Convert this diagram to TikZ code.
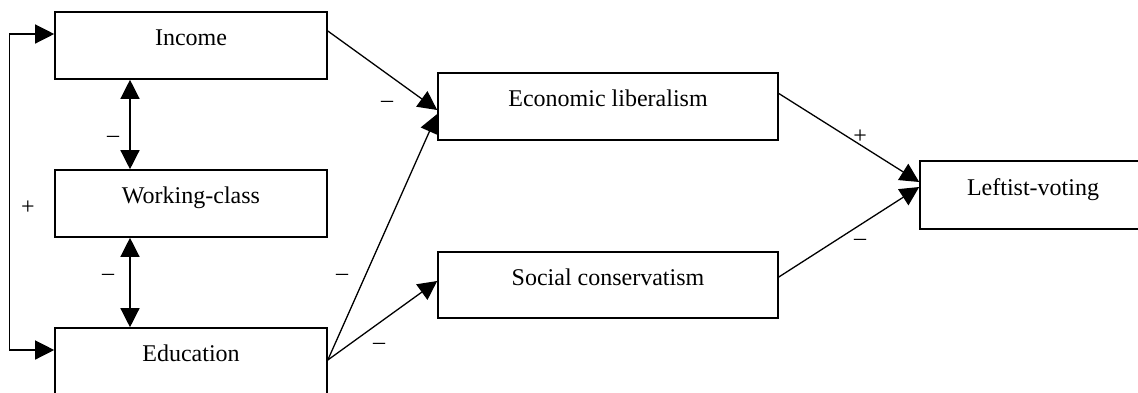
\documentclass[tikz,border=0pt]{standalone}
\usepackage{fontspec}
\setmainfont{Liberation Serif}
\usetikzlibrary{arrows.meta}

\tikzstyle{box} = [draw, rectangle, line width=0.8pt, inner sep=0pt, minimum height=33.5pt, text height=1ex, text depth=1ex, font=\fontsize{12}{14}\selectfont]
\tikzstyle{sgn} = [inner sep=0pt, font=\fontsize{12}{14}\selectfont]
\tikzstyle{arr} = [line width=0.65pt, -{Triangle[length=9.5pt, width=9.5pt]}]
\tikzstyle{darr} = [line width=0.65pt, {Triangle[length=9.5pt, width=9.5pt]}-{Triangle[length=9.5pt, width=9.5pt]}]

\begin{document}
\begin{tikzpicture}[x=0.5pt, y=-0.5pt]
\useasboundingbox (0,0) rectangle (1138,392);
\clip (0,0) rectangle (1138,392);

\node[box, minimum width=136pt] (inc) at (191,45.5) {Income};
\node[box, minimum width=136pt] (wc) at (191,203.5) {Working-class};
\node[box, minimum width=136pt] (edu) at (191,361.5) {Education};
\node[box, minimum width=170pt] (econ) at (608,106.5) {Economic liberalism};
\node[box, minimum width=170pt, minimum height=33pt] (soc) at (608,285) {Social conservatism};
\node[box, minimum width=113pt, minimum height=34pt] (vote) at (1033,195) {Leftist-voting};

\draw[darr] ([xshift=-30.5pt]inc.south) -- ([xshift=-30.5pt]wc.north);
\draw[darr] ([xshift=-30.5pt]wc.south) -- ([xshift=-30.5pt]edu.north);
\draw[darr] ([yshift=5.75pt]edu.west) -- ++(-45,0) |- ([yshift=5.75pt]inc.west);
\draw[arr] ([yshift=7.25pt]inc.east) -- ([yshift=-1.75pt]econ.west);
\draw[arr] ([yshift=0.75pt]edu.east) -- ([yshift=-3.75pt]econ.west);
\draw[arr] ([yshift=0.75pt]edu.east) -- ([yshift=2pt]soc.west);
\draw[arr] ([yshift=6.5pt]econ.east) -- ([yshift=6.5pt]vote.west);
\draw[arr] ([yshift=4pt]soc.east) -- ([yshift=4pt]vote.west);

\node[sgn] (iw) at (113,139) {--};
\node[sgn] (we) at (108,277) {--};
\node[sgn] (ie) at (28,208) {+};
\node[sgn] (iecon) at (387,104) {--};
\node[sgn] (eecon) at (342,277) {--};
\node[sgn] (esoc) at (379,346) {--};
\node[sgn] (econv) at (860,137) {+};
\node[sgn] (socv) at (860,242) {--};
\end{tikzpicture}
\end{document}
